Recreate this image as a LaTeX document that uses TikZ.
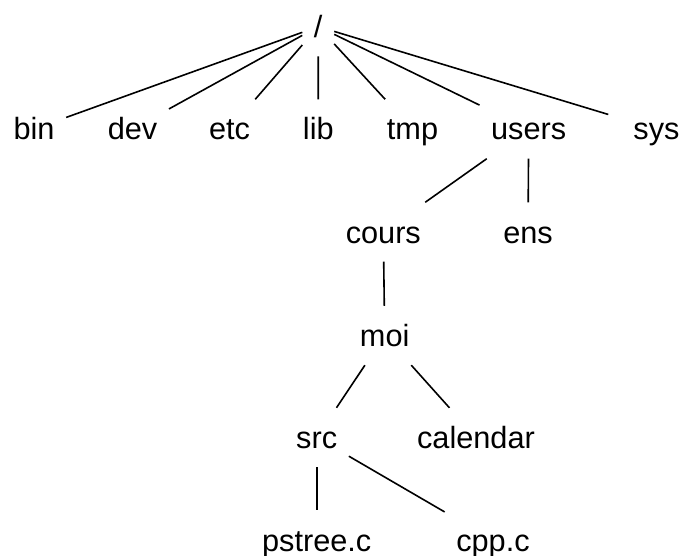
\documentclass[tikz,border=0pt]{standalone}
\usepackage{fontspec}
\setmainfont{Liberation Sans}
\begin{document}
\begin{tikzpicture}[x=1pt,y=-1pt,
  tn/.style={inner xsep=11.5pt, inner ysep=18.5pt, text height=22pt, text depth=0pt,
             font=\fontsize{30.7}{36}\selectfont},
  edge/.style={line width=1.6pt, black}]
\useasboundingbox (0,0) rectangle (682,556);
% level 0
\node[tn] (root) at (318.25,26.6) {/};
% level 1
\node[tn] (bin) at (34,129) {bin};
\node[tn] (dev) at (132.5,129) {dev};
\node[tn] (etc) at (229.5,129) {etc};
\node[tn] (lib) at (318.3,129) {lib};
\node[tn] (tmp) at (412.5,129) {tmp};
\node[tn] (users) at (528.7,129) {users};
\node[tn, inner xsep=25pt] (sys) at (656.5,129) {sys};
% level 2
\node[tn] (cours) at (383.3,232) {cours};
\node[tn] (ens) at (528,232) {ens};
% level 3
\node[tn] (moi) at (384.7,335.5) {moi};
% level 4
\node[tn] (src) at (316.7,437.5) {src};
\node[tn] (calendar) at (476,437.5) {calendar};
% level 5
\node[tn] (pstree) at (316.7,540) {pstree.c};
\node[tn] (cpp) at (493,540) {cpp.c};
% edges
\foreach \c in {bin,dev,etc,lib,tmp,users,sys}
  \draw[edge] (root) -- (\c);
\draw[edge] (users) -- (cours);
\draw[edge] (users) -- (ens);
\draw[edge] (cours) -- (moi);
\draw[edge] (moi) -- (src);
\draw[edge] (moi) -- (calendar);
\draw[edge] (src) -- (pstree);
\draw[edge] (src) -- (cpp);
\end{tikzpicture}
\end{document}
